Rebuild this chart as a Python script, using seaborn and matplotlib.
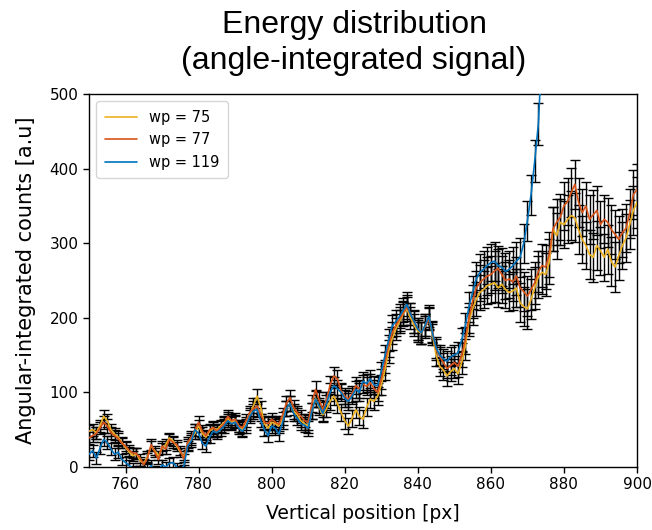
import numpy as np
import pandas as pd
import matplotlib
matplotlib.use("Agg")
import matplotlib.pyplot as plt
import seaborn as sns

# ---------------- data ----------------
position = list(range(750, 901))

wp75 = [48, 50, 46, 55, 68, 62, 50, 44, 40, 33, 26,
        20, 15, 18, 8, 5, 14, 28, 22, 15, 25, 30, 39, 35, 28, 20, 14, 30, 38, 45, 55,
        45, 40, 48, 52, 50, 55, 60, 65, 60, 62, 55, 50, 58, 70, 82, 95, 80, 58, 52, 60,
        58, 55, 65, 78, 85, 75, 70, 62, 58, 55, 75, 92, 80, 70, 78, 88, 95, 85, 73, 62,
        55, 65, 77, 68, 64, 80, 91, 88, 95, 110, 130, 155, 172, 185, 195, 205, 212, 200, 190, 182,
        180, 190, 200, 178, 150, 135, 130, 122, 128, 132, 125, 140, 162, 195, 212, 225, 234, 238, 243, 245,
        247, 240, 245, 238, 234, 236, 240, 220, 215, 212, 225, 240, 255, 261, 258, 275, 319, 310, 328, 325,
        332, 337, 334, 318, 305, 297, 285, 281, 297, 290, 281, 292, 275, 268, 283, 297, 307, 325, 344, 355]

wp77 = [39, 42, 45, 52, 60, 55, 46, 42, 38, 32, 28,
        22, 19, 18, 12, 3, 12, 30, 20, 10, 28, 24, 37, 33, 30, 22, 10, 33, 40, 50, 60,
        48, 42, 50, 53, 48, 53, 58, 68, 62, 64, 55, 53, 62, 73, 78, 82, 70, 60, 58, 64,
        60, 57, 70, 85, 93, 80, 73, 68, 62, 60, 85, 104, 90, 77, 90, 110, 122, 118, 102, 95,
        91, 98, 109, 105, 111, 108, 113, 105, 100, 118, 140, 162, 180, 190, 198, 206, 214, 205, 194, 185,
        180, 188, 198, 182, 158, 148, 140, 132, 136, 140, 135, 150, 170, 200, 222, 240, 247, 252, 256, 258,
        263, 266, 258, 250, 252, 248, 256, 240, 235, 229, 238, 247, 262, 270, 268, 285, 319, 328, 335, 350,
        356, 368, 379, 355, 341, 350, 332, 338, 344, 325, 332, 328, 318, 312, 305, 314, 320, 340, 365, 372]

wp119 = [17, 22, 12, 25, 37, 33, 24, 17, 20, 10, 6,
         2, -2, -6, -4, -8, -3, 2, -5, -8, 3, 0, 5, 6, 0, -4, 2, 28, 35, 50, 45,
         32, 28, 40, 48, 46, 50, 55, 62, 58, 60, 52, 48, 55, 68, 75, 77, 62, 50, 42, 55,
         52, 44, 60, 78, 85, 72, 65, 58, 56, 52, 75, 91, 82, 72, 85, 100, 109, 105, 100, 92,
         88, 95, 104, 100, 115, 112, 118, 110, 109, 128, 149, 170, 189, 195, 202, 210, 218, 205, 195, 185,
         180, 190, 202, 180, 160, 150, 145, 142, 148, 150, 153, 170, 189, 215, 234, 252, 261, 265, 270, 274,
         276, 270, 268, 262, 265, 270, 276, 281, 300, 330, 365, 410, 460, 560, np.nan, np.nan, np.nan, np.nan, np.nan, np.nan,
         np.nan, np.nan, np.nan, np.nan, np.nan, np.nan, np.nan, np.nan, np.nan, np.nan, np.nan, np.nan, np.nan, np.nan, np.nan, np.nan, np.nan, np.nan, np.nan, np.nan]

err = [8, 8, 8, 8, 9, 9, 8, 8, 8, 7, 7,
       7, 7, 7, 6, 6, 7, 7, 6, 6, 7, 7, 7, 7, 6, 6, 7, 7, 8, 8, 8,
       8, 8, 8, 8, 8, 8, 9, 9, 9, 8, 8, 8, 9, 9, 10, 10, 9, 9, 9, 9,
       9, 9, 9, 10, 10, 10, 9, 9, 9, 10, 11, 11, 10, 10, 11, 12, 12, 12, 11, 11,
       11, 11, 11, 12, 12, 12, 12, 12, 12, 13, 14, 15, 15, 15, 16, 16, 16, 15, 15, 15,
       15, 15, 15, 14, 14, 13, 13, 13, 13, 13, 14, 16, 18, 20, 22, 23, 24, 25, 25, 25,
       26, 26, 25, 25, 25, 25, 26, 26, 26, 27, 27, 28, 28, 29, 29, 30, 30, 31, 31, 32,
       32, 33, 33, 33, 32, 32, 33, 33, 33, 32, 32, 33, 33, 33, 32, 32, 32, 33, 33, 34]

labels = ["wp = 75", "wp = 77", "wp = 119"]
colors = ["#EDB120", "#D95319", "#0072BD"]

# ---------------- figure ----------------
sns.set_style("ticks")
plt.rcParams["font.family"] = ["DejaVu Sans"]
plt.rcParams["text.color"] = "black"
plt.rcParams["axes.labelcolor"] = "black"

fig = plt.figure(figsize=(6.52, 5.30), dpi=100)
ax = fig.add_axes([89 / 652, 1 - 467 / 530, (637 - 89) / 652, (467 - 94) / 530])

series = [wp75, wp77, wp119]
frames = []
for lab, vals in zip(labels, series):
    frames.append(pd.DataFrame({"position": position, "counts": vals, "err": err, "wp": lab}))
df = pd.concat(frames, ignore_index=True)

# error bars (black, capped) beneath coloured lines
for lab in labels:
    d = df[df["wp"] == lab].dropna()
    ax.errorbar(d["position"], d["counts"], yerr=d["err"], fmt="none",
                ecolor="black", elinewidth=1.0, capsize=3.5, capthick=1.0, zorder=2)

sns.lineplot(data=df.dropna(), x="position", y="counts", hue="wp",
             hue_order=labels, palette=colors, linewidth=1.2, ax=ax, zorder=3)

ax.set_xlim(750, 900)
ax.set_ylim(0, 500)
ax.set_xticks([760, 780, 800, 820, 840, 860, 880, 900])
ax.set_yticks([0, 100, 200, 300, 400, 500])
for s in ax.spines.values():
    s.set_visible(True)
    s.set_color("black")
    s.set_linewidth(1.0)
ax.tick_params(axis="both", labelsize=11, colors="black", length=4, width=1)
ax.set_xlabel("Vertical position [px]", fontsize=13.5, labelpad=8)
ax.set_ylabel("Angular-integrated counts [a.u]", fontsize=15, labelpad=10)

sns.move_legend(ax, "upper left", title=None, fontsize=10.5, frameon=True,
                labelspacing=0.5, handlelength=2.2, borderpad=0.6)

fig.text(354 / 652, 1 - 10 / 530, "Energy distribution\n(angle-integrated signal)",
         ha="center", va="top", fontsize=23, family="Liberation Sans", linespacing=1.25,
         color="black")

fig.savefig("out.png", dpi=100)
